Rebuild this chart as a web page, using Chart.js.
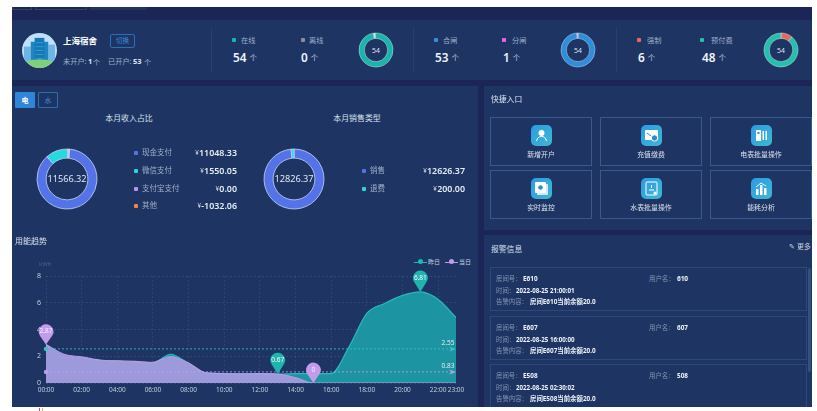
<!DOCTYPE html>
<html lang="zh"><head><meta charset="utf-8">
<script src="https://cdn.jsdelivr.net/npm/chart.js@4/dist/chart.umd.min.js"></script>
<style>
html,body{margin:0;padding:0;background:#fff;width:817px;height:411px;overflow:hidden}
#root{position:absolute;left:0;top:0;width:817px;height:411px;overflow:hidden;font-family:"Noto Sans","Noto Sans CJK SC",sans-serif;filter:blur(.4px)}
.box{position:absolute;box-sizing:border-box}
.t{position:absolute;white-space:nowrap;line-height:1;transform:translateY(-50%)}
canvas{position:absolute}
</style></head><body><div id="root"></div>
<script>
// ---- data ----
const hours = ["00:00","01:00","02:00","03:00","04:00","05:00","06:00","07:00","08:00","09:00","10:00","11:00","12:00","13:00","14:00","15:00","16:00","17:00","18:00","19:00","20:00","21:00","22:00","23:00"];
const yesterdayKwh = [2.87,1.95,1.85,1.7,1.65,1.5,1.5,2.15,1.45,0.75,0.7,0.69,0.7,0.67,0.7,0.7,0.7,2.7,5.2,5.95,6.55,6.81,6.25,4.9];
const todayKwh = [2.87,2.15,1.95,1.72,1.65,1.62,1.55,1.98,1.5,0.75,0.7,0.68,0.7,0.67,0.4,0,0,0,0,0,0,0,0,0];
const yesterdayAvg = 2.55;
const todayAvg = 0.83;
const yTicks = [0,2,4,6,8];
const onlineRing = [54,0.8];
const switchRing = [1,53];
const modeRing = [6,48];
const incomeLabels = ["现金支付","微信支付","支付宝支付","其他"];
const incomeValues = [11048.33,1550.05,0,-1032.06];
const incomeTotal = "11566.32";
const salesLabels = ["销售","退费"];
const salesValues = [12626.37,200];
const salesTotal = "12826.37";
const shortcuts = ["新增开户","充值缴费","电表批量操作","实时监控","水表批量操作","能耗分析"];
const alarms = [
 ["E610","610","2022-08-25 21:00:01","房间E610当前余额20.0"],
 ["E607","607","2022-08-25 16:00:00","房间E607当前余额20.0"],
 ["E508","508","2022-08-25 02:30:02","房间E508当前余额20.0"]];
// ---- colours ----
const PANEL="#1e3563",DARK="#1b2556",TEAL="#1fb8b4",PURPLE="#c39bec",GREY="#9fb0c8",BLUE="#5473e8",CYAN="#22dbe0";

const root=document.getElementById('root');
function box(x,y,w,h,css){const d=document.createElement('div');d.className='box';d.style.cssText=`left:${x}px;top:${y}px;width:${w}px;height:${h}px;${css||''}`;root.appendChild(d);return d;}
function txt(x,y,s,size,color,extra){const d=document.createElement('div');d.className='t';d.textContent=s;d.style.cssText=`left:${x}px;top:${y}px;font-size:${size}px;color:${color};${extra||''}`;root.appendChild(d);return d;}
function ctr(x,y,s,size,color,extra){return txt(x,y,s,size,color,'transform:translate(-50%,-50%);'+(extra||''));}
function rgt(x,y,s,size,color,extra){return txt(x,y,s,size,color,'transform:translate(-100%,-50%);'+(extra||''));}
function dot(x,y,c,r){box(x-(r||2),y-(r||2),(r||2)*2,(r||2)*2,`background:${c};border-radius:1px`);}

// backgrounds
box(12,7,800,400,`background:${DARK}`);
box(12,7,20,3,'border:1px solid #34416e;border-top:0');
box(35,7,52,3,'border:1px solid #34416e;border-top:0');
box(90,7,57,3,'background:#21345f');
box(12,20,800,60,`background:${PANEL}`);
box(12,86,466,321,`background:${PANEL}`);
box(484,86,328,144,`background:${PANEL}`);
box(484,235,328,172,`background:${PANEL}`);
box(39,408,1,3,'background:#e0457a');box(42,408,1,3,'background:#e9b23c');

// avatar
const av=box(21.5,32.5,35,35,'border-radius:50%;overflow:hidden');
av.innerHTML=`<svg width="35" height="35" viewBox="0 0 36 36"><rect width="36" height="36" fill="#bfe0fa"/><rect x="2" y="14" width="7" height="16" fill="#6fb4e6"/><rect x="27" y="12" width="7" height="18" fill="#6fb4e6"/><rect x="9" y="9" width="18" height="21" fill="#1f86c4"/><rect x="13" y="5" width="10" height="25" fill="#1478b5"/><path d="M14 10h8M14 14h8M14 18h8M14 22h8M14 26h8" stroke="#3a9ad4" stroke-width="1"/><path d="M0 30q18-6 36 0v6H0z" fill="#7fd07a"/></svg>`;
txt(63,41,"上海宿舍",8.5,"#fff","font-weight:700");
box(110,34,25,14,'border:1px solid #2d6fb3;border-radius:2px');
ctr(122.5,41,"切换",6.5,"#3d8fd8");
txt(63,62,"未开户:",7.2,GREY);txt(88,62,"1",7.5,"#dde6f2","font-weight:700");txt(93,62,"个",7,GREY);
txt(108,62,"已开户:",7.2,GREY);txt(133,62,"53",7.5,"#dde6f2","font-weight:700");txt(144,62,"个",7,GREY);

// stat groups
[211,413,616].forEach(x=>box(x,28,1,44,'background:#26406f'));
const stats=[
 [234,241,233,"在线","54","#19b5b0"],[303,309,301,"离线","0","#8d8f94"],
 [436,443,435,"合闸","53","#2f8fe0"],[504,512,503,"分闸","1","#ee62e4"],
 [639,647,638,"强制","6","#e8695a"],[702,711,702,"预付费","48","#25bfae"]];
stats.forEach(([dx,tx,vx,l,v,c])=>{
  dot(dx,40,c);txt(tx,40.5,l,7.2,GREY);
  txt(vx,58,v,11.8,"#eef3fa","font-weight:600");
  txt(vx+(v.length*6.8)+3,58.5,"个",7.5,"#c6d2e2");
});

// charts helper
function ring(cx,cy,size,r,cut,vals,cols,rot,label,fs,bc,bw){
  const c=document.createElement('canvas');c.width=size;c.height=size;
  c.style.cssText=`left:${cx-size/2}px;top:${cy-size/2}px;width:${size}px;height:${size}px`;root.appendChild(c);
  new Chart(c,{type:'doughnut',data:{datasets:[{data:vals,backgroundColor:cols,borderColor:bc,borderWidth:bw}]},
   options:{responsive:false,animation:false,rotation:rot,radius:r,cutout:cut,plugins:{legend:{display:false},tooltip:{enabled:false}}}});
  ctr(cx,cy,label,fs,"#dfe7f3");
}
ring(376,50,40,17,13.5,onlineRing,["#19b5ac","#bfe5e0"],-3,"54",7,"#cfe8ea",.5);
ring(578,50,40,17,13.5,switchRing,["#d9a6ee","#2f8ddc"],-5,"54",7,"#bcd9f2",.5);
ring(781,50,40,17,13.5,modeRing,["#e8695a","#25bfae"],0,"54",7,"#c5e6e4",.5);

// tabs
box(15,92,20,16,'background:#2f86d8;border-radius:1px');ctr(25,100,"电",7,"#fff","font-weight:700");
box(38,92,20,16,'border:1px solid #2d6fb3;border-radius:1px');ctr(48,100,"水",7,"#3d8fd8");
ctr(129,118.5,"本月收入占比",7.9,"#d8e1ee");ctr(357,118.5,"本月销售类型",7.9,"#d8e1ee");

const incomeCols=[BLUE,CYAN,"#bb94ec","#ef8547"];
ring(67,179,64,30,22,[incomeValues[0],incomeValues[1],110],[BLUE,CYAN,"#d7b8ef"],5,incomeTotal,9.2,"#c7d4f5",.8);
ring(294,179,64,30,22,salesValues,[BLUE,CYAN],0,salesTotal,9.2,"#c7d4f5",.8);
function money(x,y,v){
  const e=rgt(x,y,v.toFixed(2),8.9,"#e6edf6","font-weight:600");
  rgt(x-e.getBoundingClientRect().width-.3,y+.4,"¥",6.2,"#e6edf6");
}
const iy=[153,171,188.5,206];
incomeLabels.forEach((l,i)=>{dot(135.5,iy[i],incomeCols[i],2);txt(142,iy[i],l,7.5,GREY);money(237,iy[i],incomeValues[i]);});
const sy=[171,188.5];
salesLabels.forEach((l,i)=>{dot(363.5,sy[i],[BLUE,CYAN][i],2);txt(370,sy[i],l,7.5,GREY);money(465,sy[i],salesValues[i]);});

// trend
txt(15,241,"用能趋势",8,"#d8e1ee");
txt(39,264,"kWh",6,"rgba(255,255,255,.2)");
box(414,261.5,13,1,`background:${TEAL}`);box(417.5,259,5,5,`background:${TEAL};border-radius:50%`);
txt(428,262,"昨日",6,"#c6d2e2");
box(445,261.5,13,1,`background:${PURPLE}`);box(449,259,5,5,`background:${PURPLE};border-radius:50%`);
txt(459,262,"当日",6,"#c6d2e2");

const cv=document.createElement('canvas');cv.width=466;cv.height=145;
cv.style.cssText='left:12px;top:262px;width:466px;height:145px';root.appendChild(cv);
function pin(ctx,x,tip,off,r,color,label){
  const cy=tip-off;ctx.save();ctx.fillStyle=color;ctx.beginPath();
  ctx.arc(x,cy,r,Math.PI*0.8,Math.PI*0.2,false);ctx.lineTo(x,tip);ctx.closePath();ctx.fill();
  ctx.fillStyle="#f2f7fb";ctx.font='6.5px "Noto Sans"';ctx.textAlign='center';ctx.textBaseline='middle';ctx.fillText(label,x,cy);ctx.restore();
}
const overlay={id:'overlay',afterDatasetsDraw(ch){
  const {ctx,scales:{x,y}}=ch;
  [[yesterdayAvg,"#39c4c4"],[todayAvg,PURPLE]].forEach(([v,c])=>{
    const py=y.getPixelForValue(v),l=x.left,r=x.right;
    ctx.save();ctx.strokeStyle=c;ctx.lineWidth=.8;ctx.setLineDash([2,2]);ctx.beginPath();ctx.moveTo(l,py);ctx.lineTo(r-6,py);ctx.stroke();ctx.setLineDash([]);
    ctx.fillStyle=c;ctx.beginPath();ctx.arc(l,py,2.2,0,7);ctx.fill();
    ctx.beginPath();ctx.moveTo(r,py);ctx.lineTo(r-7,py-2.5);ctx.lineTo(r-5,py);ctx.lineTo(r-7,py+2.5);ctx.closePath();ctx.fill();
    ctx.font='6.5px "Noto Sans"';ctx.textAlign='center';ctx.fillStyle="#e8edf2";ctx.fillText(v.toFixed(2),r-8,py-3.5);ctx.restore();
  });
  const mark=(arr,c,off)=>{
    [Math.max(...arr),Math.min(...arr)].forEach(v=>{const i=arr.indexOf(v);pin(ctx,x.getPixelForValue(i),y.getPixelForValue(v),off,7.4,c,String(v));});
  };
  mark(yesterdayKwh,"#1fb5ae",14);
  mark(todayKwh,PURPLE,13);
}};
new Chart(cv,{type:'line',plugins:[overlay],data:{labels:hours,datasets:[
 {label:"昨日",order:2,data:yesterdayKwh,borderColor:"#26bcc0",borderWidth:1.2,backgroundColor:"rgba(28,170,175,.82)",fill:'origin',cubicInterpolationMode:'monotone',pointRadius:0},
 {label:"当日",order:1,data:todayKwh,borderColor:"#b49be8",borderWidth:1.2,backgroundColor:"rgba(168,155,225,.92)",fill:'origin',cubicInterpolationMode:'monotone',pointRadius:0}]},
 options:{responsive:false,animation:false,layout:{padding:{top:14,right:22,left:0,bottom:0}},
  plugins:{legend:{display:false},tooltip:{enabled:false}},
  scales:{
   x:{offset:false,border:{display:false,dash:[2,2]},afterFit(s){s.height=24;},
      grid:{drawTicks:false,color:c=>c.index%2===0?"rgba(255,255,255,.07)":"transparent"},
      ticks:{autoSkip:false,maxRotation:0,minRotation:0,padding:3,color:"#c3cede",font:{size:6.5,family:'"Noto Sans"'},
        callback(v,i){return (i%2===0||i===23)?hours[i]:'';}}},
   y:{min:0,max:8,border:{display:false,dash:[2,2]},afterFit(s){s.width=34;},
      afterBuildTicks(s){s.ticks=yTicks.map(v=>({value:v}));},
      grid:{drawTicks:false,color:"rgba(255,255,255,.09)"},
      ticks:{padding:5,color:"#c3cede",font:{size:7,family:'"Noto Sans"'}}}
  }}});

// shortcuts
txt(491,100,"快捷入口",7.8,"#d8e1ee");
const tx=[490,600,710],ty=[117,170];
const glyphs=[
 '<circle cx="10.5" cy="8" r="3" fill="#fff"/><path d="M5.500 16q1-4.500 5-4.500t5 4.500" stroke="#fff" fill="none" stroke-width="1"/>',
 '<rect x="4" y="5" width="13" height="10" rx="1" fill="#fff"/><circle cx="13.500" cy="13" r="3.200" fill="#2a8fd0" stroke="#fff"/><path d="M6 8l4 3" stroke="#2a8fd0"/>',
 '<rect x="5" y="5" width="5" height="11" fill="#fff"/><rect x="11.500" y="6" width="1.500" height="9" fill="#fff"/><rect x="14.500" y="6" width="1.500" height="9" fill="#fff"/><rect x="6.500" y="7" width="2" height="2" fill="#2a8fd0"/>',
 '<rect x="6" y="6" width="11" height="11" rx="1" fill="#cfeafa"/><rect x="4" y="4" width="11" height="11" rx="1" fill="#fff"/><circle cx="9.500" cy="9.500" r="2.300" fill="#2a8fd0"/>',
 '<rect x="5" y="4" width="11" height="13" rx="1" fill="none" stroke="#fff"/><path d="M8 12h5M10.500 7v3" stroke="#fff"/><circle cx="14" cy="15" r="1.500" fill="#fff"/>',
 '<rect x="5" y="11" width="2.500" height="6" fill="#fff"/><rect x="9" y="7" width="2.500" height="10" fill="#fff"/><rect x="13" y="10" width="2.500" height="7" fill="#fff"/><path d="M5 9l5-4 5 3" stroke="#dff" fill="none"/>'];
shortcuts.forEach((l,i)=>{
  const x=tx[i%3],y=ty[i>2?1:0];
  box(x,y,102,49,'border:1px solid #3a5a8e');
  const ic=box(x+40.5,y+8,21,21,'background:linear-gradient(135deg,#2b9be6,#3fb8d0);border-radius:5px');
  ic.innerHTML=`<svg width="21" height="21" viewBox="0 0 21 21">${glyphs[i]}</svg>`;
  ctr(x+51,y+38,l,6.9,"#d8e1ee");
});

// alarms
txt(491,250,"报警信息",7.8,"#d8e1ee");
txt(789,246,"✎",7,"#cdd8e6");rgt(811,246,"更多",7,"#cdd8e6");
box(808,268,3,104,'background:#34507f;border-radius:2px');
const cy=[267,316,364];
alarms.forEach((a,i)=>{
  const y=cy[i];
  box(490,y,317,i===2?43:44,'border:1px solid #2b4a7c;'+(i===2?'border-bottom:0':''));
  const lab="#8496b4",val="#eef3fa",B="font-weight:700";
  const dy=[12,23.5,34.5];
  txt(496,y+dy[0],"房间号：",6.4,lab);txt(523,y+dy[0],a[0],6.4,val,B);
  txt(649,y+dy[0],"用户名：",6.4,lab);txt(677,y+dy[0],a[1],6.4,val,B);
  txt(496,y+dy[1],"时间：",6.4,lab);txt(516,y+dy[1],a[2],6.2,val,B);
  txt(496,y+dy[2],"告警内容：",6.4,lab);txt(530,y+dy[2],a[3],6.4,val,B);
});
</script></body></html>
